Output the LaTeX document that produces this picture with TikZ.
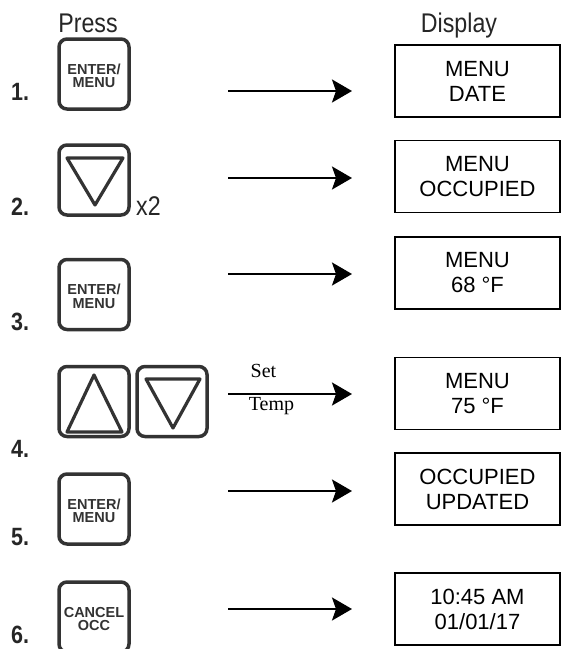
\documentclass[tikz,border=0pt]{standalone}
\usepackage{fontspec}
\setmainfont{Liberation Sans}
\newfontfamily\narrowfont[FakeStretch=0.86]{Liberation Sans}
\newfontfamily\seriffont{Liberation Serif}
\usetikzlibrary{arrows.meta}
\definecolor{btngray}{HTML}{333333}
\tikzset{
  head/.style={inner sep=0pt, font=\narrowfont\fontsize{27}{27}\selectfont, text=black!85},
  num/.style={inner sep=0pt, font=\narrowfont\bfseries\fontsize{25}{25}\selectfont, text=black!85},
  btn/.style={draw=btngray, line width=3.5pt, rounded corners=8pt, minimum width=70pt, minimum height=70pt, inner sep=0pt},
  btntext/.style={inner sep=0pt, align=center, text=btngray, font=\bfseries\fontsize{14.5}{13.5}\selectfont},
  tri/.style={draw=btngray, line width=3.2pt, line join=round},
  disp/.style={draw=black, line width=1.8pt, minimum width=165pt, minimum height=72pt, inner sep=0pt, align=center, font=\fontsize{22}{25}\selectfont},
  arr/.style={line width=2.4pt, -{Stealth[length=20pt,width=23pt,inset=4pt]}},
  lbl/.style={inner sep=0pt, font=\seriffont\fontsize{20}{20}\selectfont}
}
\begin{document}
\begin{tikzpicture}[x=1pt,y=-1pt]
\useasboundingbox (0,0) rectangle (561,649);
\fill[white] (0,0) rectangle (561,649);
% headings
\node[head, anchor=base] (press) at (88,32) {Press};
\node[head, anchor=base] (display) at (459,32) {Display};
% step numbers
\node[num, anchor=base west] (n1) at (11,100) {1.};
\node[num, anchor=base west] (n2) at (11,215) {2.};
\node[num, anchor=base west] (n3) at (11,330) {3.};
\node[num, anchor=base west] (n4) at (11,457) {4.};
\node[num, anchor=base west] (n5) at (11,545) {5.};
\node[num, anchor=base west] (n6) at (11,643) {6.};
% buttons
\node[btn] (b1) at (94,74) {};
\node[btntext] (b1t) at ([yshift=-2pt]b1.center) {ENTER/\\MENU};
\node[btn] (b2) at (94,180) {};
\draw[tri] (67,158) -- (123,158) -- (95,205) -- cycle;
\node[head, anchor=base west] (x2) at (136,215) {x2};
\node[btn] (b3) at (94,294.5) {};
\node[btntext] (b3t) at ([yshift=-2pt]b3.center) {ENTER/\\MENU};
\node[btn] (b4a) at (94,401.5) {};
\draw[tri] (67,432) -- (122,432) -- (94,375) -- cycle;
\node[btn] (b4b) at (172,401.5) {};
\draw[tri] (146,379) -- (200,379) -- (173,428) -- cycle;
\node[btn] (b5) at (94,509) {};
\node[btntext] (b5t) at ([yshift=-2pt]b5.center) {ENTER/\\MENU};
\node[btn] (b6) at (94,617) {};
\node[btntext] (b6t) at ([yshift=-2pt]b6.center) {CANCEL\\OCC};
% displays
\node[disp] (d1) at (477.5,81) {MENU\\DATE};
\node[disp] (d2) at (477.5,176.5) {MENU\\OCCUPIED};
\node[disp] (d3) at (477.5,273) {MENU\\68 °F};
\node[disp] (d4) at (477.5,393.5) {MENU\\75 °F};
\node[disp] (d5) at (477.5,489) {OCCUPIED\\UPDATED};
\node[disp] (d6) at (477.5,609) {10:45 AM\\01/01/17};
% arrows
\coordinate (a1s) at (228,91);  \coordinate (a1e) at (352,91);
\coordinate (a2s) at (228,178); \coordinate (a2e) at (352,178);
\coordinate (a3s) at (228,274); \coordinate (a3e) at (352,274);
\coordinate (a4s) at (228,394); \coordinate (a4e) at (352,394);
\coordinate (a5s) at (228,491); \coordinate (a5e) at (352,491);
\coordinate (a6s) at (228,609); \coordinate (a6e) at (352,609);
\draw[arr] (a1s) -- (a1e);
\draw[arr] (a2s) -- (a2e);
\draw[arr] (a3s) -- (a3e);
\draw[arr] (a4s) -- (a4e);
\draw[arr] (a5s) -- (a5e);
\draw[arr] (a6s) -- (a6e);
\node[lbl, anchor=base] (set) at (263.5,377) {Set};
\node[lbl, anchor=base] (temp) at (271.5,410) {Temp};
\end{tikzpicture}
\end{document}
